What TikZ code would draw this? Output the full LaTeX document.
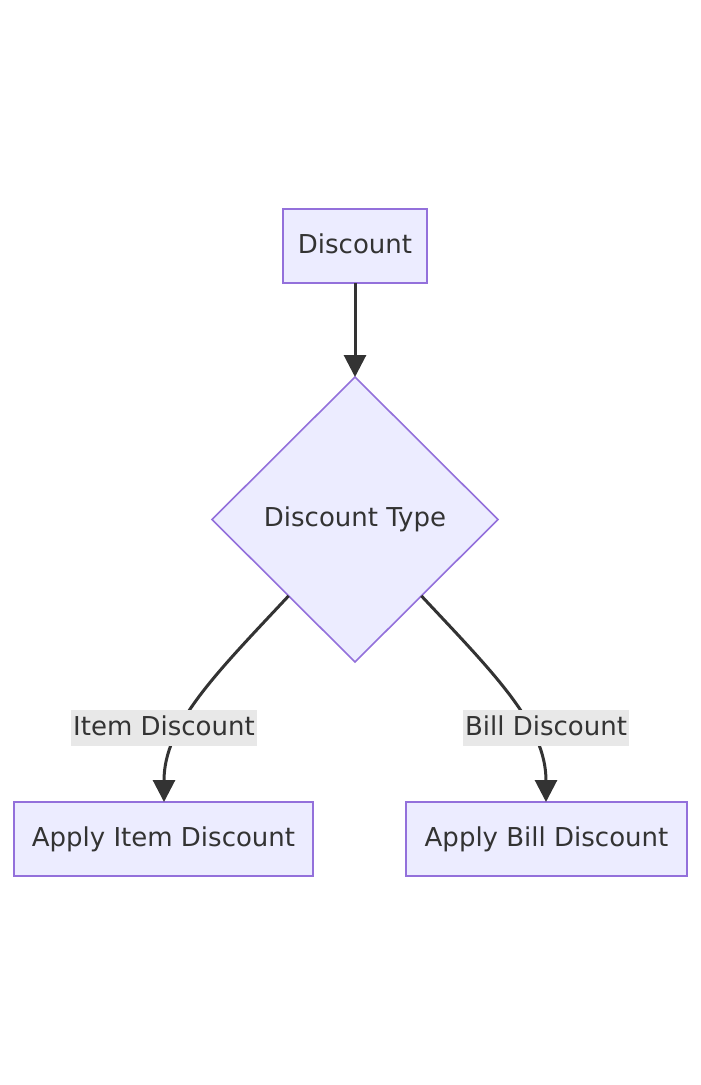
\documentclass[tikz,border=0pt]{standalone}
\usepackage{fontspec}
\setmainfont{DejaVu Sans}
\usetikzlibrary{shapes.geometric,arrows.meta}
\definecolor{nodefill}{HTML}{ECECFF}
\definecolor{nodeline}{HTML}{9370DB}
\definecolor{edgeline}{HTML}{333333}
\definecolor{labelbg}{HTML}{E8E8E8}
\tikzset{
  base/.style={font=\fontsize{26}{30}\selectfont, text=edgeline, text height=19pt, text depth=5pt, outer sep=0pt, inner sep=0pt},
  procbox/.style={base, draw=nodeline, fill=nodefill, line width=1.6pt, rectangle, minimum height=74pt},
  decbox/.style={base, draw=nodeline, fill=nodefill, line width=1.6pt, diamond, minimum width=286pt, minimum height=285pt},
  edgelabel/.style={base, fill=labelbg, inner xsep=2pt, minimum height=36pt},
  flow/.style={draw=edgeline, line width=3pt, -{Triangle[length=22pt,width=22pt]}},
}
\begin{document}
\begin{tikzpicture}[x=1pt,y=-1pt]
\path[use as bounding box] (0,0) rectangle (701,1085);
\node[procbox, minimum width=144pt] (d) at (355,246) {Discount};
\node[decbox] (dt) at (355,519.5) {Discount Type};
\node[procbox, minimum width=299pt] (item) at (163.5,839) {Apply Item Discount};
\node[procbox, minimum width=281pt] (bill) at (546.5,839) {Apply Bill Discount};
\draw[flow] (d.south) -- (dt.north);
\draw[flow] (dt.-131) .. controls +(-73,78) and +(0,-77) .. ([xshift=0.5pt]item.north);
\draw[flow] (dt.-49) .. controls +(73,78) and +(0,-77) .. ([xshift=-0.5pt]bill.north);
\node[edgelabel] (l1) at (164,728) {Item Discount};
\node[edgelabel] (l2) at (546,728) {Bill Discount};
\end{tikzpicture}
\end{document}
